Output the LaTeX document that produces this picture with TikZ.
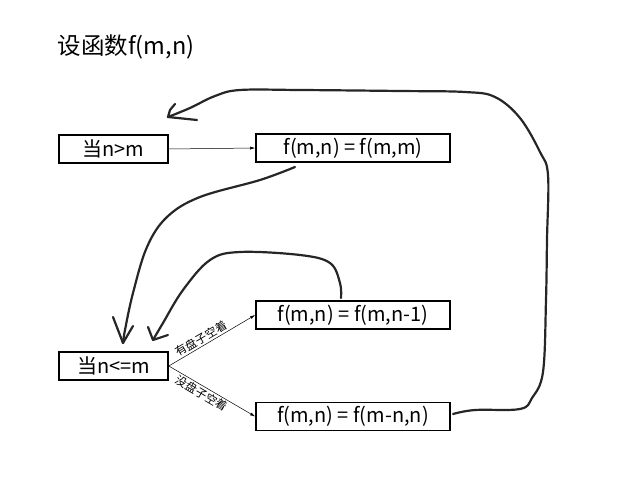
\documentclass[tikz,border=0pt]{standalone}
\usepackage{fontspec}
\setmainfont{Noto Sans CJK SC}
\usetikzlibrary{arrows.meta,calc}
\begin{document}
\begin{tikzpicture}[x=1pt,y=-1pt,
  box/.style={draw,line width=1.6pt,minimum height=28pt,inner sep=0pt,font=\fontsize{20}{22}\selectfont},
  thin/.style={line width=0.5pt,-{Latex[length=5pt,width=3pt]}},
  hand/.style={line width=2.2pt,draw=black!85,line cap=round,line join=round},
  lbl/.style={font=\fontsize{11.5}{12}\selectfont,inner sep=1.5pt}]
\useasboundingbox (0,0) rectangle (633,479);
\node[anchor=center,font=\fontsize{23.5}{26}\selectfont] (title) at (126,47) {设函数f(m,n)};
\node[box,minimum width=109pt] (a) at (113.5,149) {当n>m};
\node[box,minimum width=194pt] (b) at (353,148) {f(m,n) = f(m,m)};
\node[box,minimum width=109pt] (c) at (113.5,366) {当n<=m};
\node[box,minimum width=194pt] (d) at (353,315) {f(m,n) = f(m,n-1)};
\node[box,minimum width=194pt] (e) at (353,416.5) {f(m,n) = f(m-n,n)};
\draw[thin] (a.east) -- (b.west);
\draw[thin] (c.east) -- node[lbl,sloped,above,pos=0.42] {有盘子空着} (d.west);
\draw[thin] (c.east) -- node[lbl,sloped,below,pos=0.42] {没盘子空着} (e.west);
% curve 1: from b to c
\coordinate (t1) at (123,343);
\draw[hand] plot[smooth,tension=0.6] coordinates {(295,167) (260,180) (200,197) (167,217) (147,247) (133,293) (125,330) (t1)};
\draw[hand] (113,317) -- (t1) -- (133,326);
% curve 2: from d to c
\coordinate (t2) at (153,340);
\draw[hand] plot[smooth,tension=0.6] coordinates {(341,298) (340,283) (330,263) (300,255) (240,252) (210,260) (183,290) (163,323) (t2)};
\draw[hand] (148,327) -- (t2) -- (168,335);
% curve 3: from e to a
\coordinate (t3) at (168,117);
\draw[hand] plot[smooth,tension=0.6] coordinates {(453,414) (475,410) (520,409) (532,398) (543,372) (546,300) (547,240) (548,175) (540,152) (520,118) (495,97) (465,92) (400,91) (300,90) (240,90) (215,96) (190,108) (t3)};
\draw[hand] (175,104) -- (170,110) -- (t3) -- (197,120);
\end{tikzpicture}
\end{document}
